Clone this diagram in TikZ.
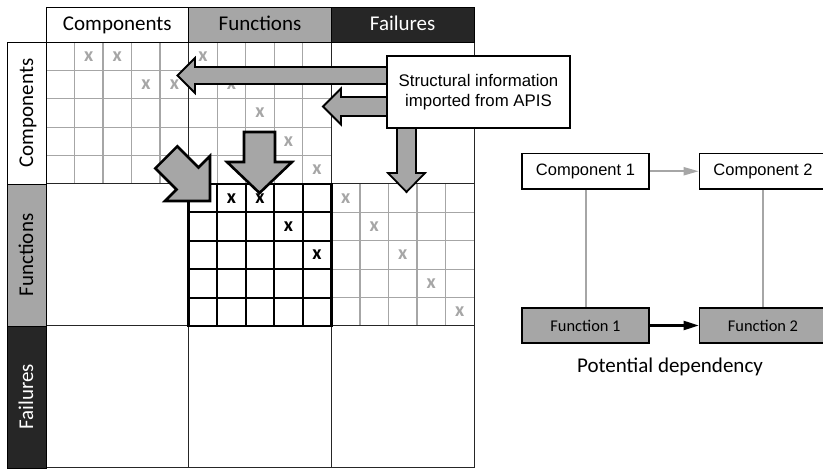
\documentclass[tikz,border=0pt]{standalone}
\usepackage{fontspec}
\setmainfont{Carlito}
\newfontfamily\arialfont{Liberation Sans}
\usetikzlibrary{arrows.meta}
\definecolor{midgray}{HTML}{A6A6A6}
\definecolor{darkfill}{HTML}{262626}
\begin{document}
\begin{tikzpicture}[x=1pt,y=-1pt,
  hdrcell/.style={draw=black, line width=0.9pt, minimum width=142.667pt, minimum height=35pt,
    inner sep=0pt, text height=15pt, text depth=2pt, font=\fontsize{21}{25}\selectfont},
  sidecell/.style={hdrcell, minimum width=142pt, minimum height=39pt, rotate=90},
  gridthin/.style={draw=midgray, line width=1.3pt},
  blockline/.style={draw=black!85, line width=1pt},
  gridbold/.style={draw=black, line width=1.9pt},
  xmark/.style={inner sep=0pt, font=\fontsize{20}{22}\selectfont\bfseries},
  blockarrow/.style={draw=black, fill=midgray, line width=1.8pt, line join=miter, miter limit=10},
  bigarrow/.style={blockarrow, line width=2.6pt},
  infobox/.style={draw=black, fill=white, line width=1.6pt, minimum width=183pt, minimum height=72pt,
    align=center, font=\arialfont\fontsize{16.8}{20}\selectfont},
  compbox/.style={draw=black, fill=white, line width=1.6pt, minimum width=127pt, minimum height=35.5pt,
    inner sep=0pt, font=\arialfont\fontsize{16.5}{19}\selectfont},
  funcbox/.style={compbox, fill=midgray, font=\fontsize{16.4}{19}\selectfont},
  link/.style={draw=midgray, line width=2pt},
]
\useasboundingbox (0,0) rectangle (823,470);

% light grids of the filled blocks
\foreach \bx/\by in {0/0,1/0,2/1}{
  \foreach \k in {1,...,4}{
    \draw[gridthin] ({46+\bx*142.667+\k*28.533},{42+\by*142}) -- ++(0,142);
    \draw[gridthin] ({46+\bx*142.667},{42+\by*142+\k*28.4}) -- ++(142.667,0);
  }
}
% block borders
\draw[blockline] (46,42) rectangle (474,468);
\draw[blockline] (188.667,42) -- (188.667,468) (331.333,42) -- (331.333,468)
                 (46,184) -- (474,184) (46,326) -- (474,326);
% function-function block in bold
\foreach \k in {1,...,4}{
  \draw[gridbold] ({188.667+\k*28.533},184) -- ++(0,142);
  \draw[gridbold] (188.667,{184+\k*28.4}) -- ++(142.667,0);
}
\draw[gridbold, line width=2.4pt] (188.667,184) rectangle (331.333,326);

% headers
\node[hdrcell, fill=white] (hcomp) at (117.333,24.5) {Components};
\node[hdrcell, fill=midgray] (hfunc) at (260,24.5) {Functions};
\node[hdrcell, fill=darkfill, text=white] (hfail) at (402.667,24.5) {Failures};
\node[sidecell, fill=white] (scomp) at (26.5,113) {Components};
\node[sidecell, fill=midgray] (sfunc) at (26.5,255) {Functions};
\node[sidecell, fill=darkfill, text=white] (sfail) at (26.5,397) {Failures};

% marks
\foreach \r/\c [count=\n] in {0/1,0/2,1/3,1/4}{
  \node[xmark, text=midgray] (xa\n) at ({46+(\c+0.5)*28.533},{42+(\r+0.5)*28.4}) {x};
}
\foreach \i in {0,...,4}{
  \node[xmark, text=midgray] (xb\i) at ({188.667+(\i+0.5)*28.533},{42+(\i+0.5)*28.4}) {x};
  \node[xmark, text=midgray] (xc\i) at ({331.333+(\i+0.5)*28.533},{184+(\i+0.5)*28.4}) {x};
}
\foreach \r/\c [count=\n] in {0/1,0/2,1/3,2/4}{
  \node[xmark, text=black] (xd\n) at ({188.667+(\c+0.5)*28.533},{184+(\r+0.5)*28.4}) {x};
}

% block arrows
\draw[blockarrow] (395,67) -- (195,67) -- (195,58) -- (177.5,75.5) -- (195,93) -- (195,84) -- (395,84) -- cycle;
\draw[blockarrow] (395,97) -- (341,97) -- (341,88.5) -- (323,106.5) -- (341,124.5) -- (341,116) -- (395,116) -- cycle;
\draw[blockarrow] (397,120) -- (397,173) -- (388,173) -- (406.5,192) -- (425,173) -- (416,173) -- (416,120) -- cycle;
\draw[bigarrow] (244,132) -- (244,162) -- (227,162) -- (259.5,193) -- (292,162) -- (275,162) -- (275,132) -- cycle;
\draw[bigarrow] (210,201) -- (210,156) -- (198.5,167.5) -- (177.3,146.3) -- (155.3,168.3) -- (176.5,189.5) -- (165,201) -- cycle;

\node[infobox] (info) at (478.5,92) {Structural information\\imported from APIS};

% dependency example
\node[compbox] (c1) at (585.5,171.25) {Component 1};
\node[compbox] (c2) at (763,171.25) {Component 2};
\node[funcbox] (f1) at (585.5,325.5) {Function 1};
\node[funcbox] (f2) at (763,325.5) {Function 2};
\node[font=\fontsize{21}{25}\selectfont, inner sep=0pt] (pd) at (670,366.5) {Potential dependency};
\draw[link] (c1) -- (f1);
\draw[link] (c2) -- (f2);
\draw[link, -{Triangle[length=15pt,width=8pt]}] (c1) -- (c2);
\draw[line width=2.2pt, -{Triangle[length=15pt,width=9pt]}] (f1) -- (f2);
\end{tikzpicture}
\end{document}
